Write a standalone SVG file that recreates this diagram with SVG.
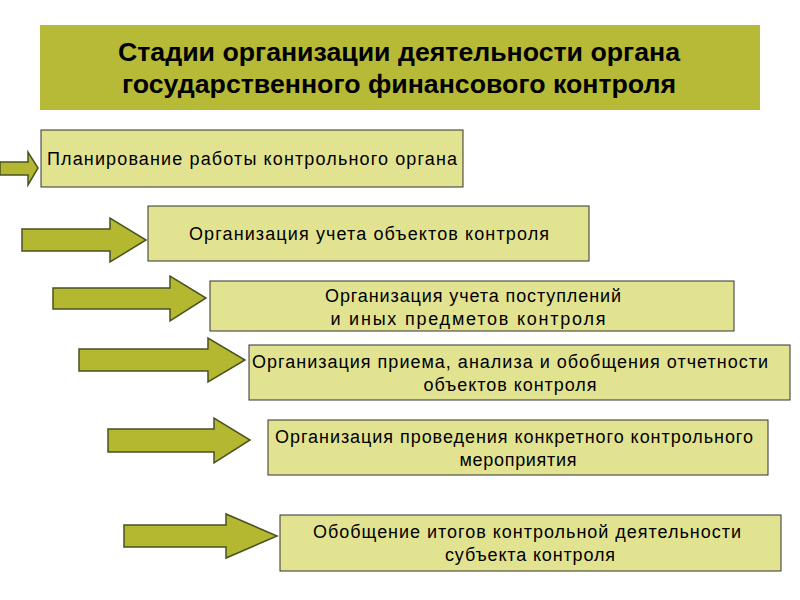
<svg xmlns="http://www.w3.org/2000/svg" width="800" height="600" viewBox="0 0 800 600">
<style>
.box{fill:#e2e391;stroke:#333;stroke-width:1}
.arr{fill:#b3b830;stroke:#4a5220;stroke-width:1.5}
text{font-family:"Liberation Sans",Arial,sans-serif;font-size:18px;fill:#000;text-anchor:middle}
.t{font-size:25px;font-weight:bold}
</style>
<rect width="800" height="600" fill="#fff"/>
<g id="title"><rect x="40" y="25" width="720" height="85" fill="#b7ba36"/>
<text class="t" x="399" y="61" textLength="562" lengthAdjust="spacingAndGlyphs">Стадии организации деятельности органа</text>
<text class="t" x="399" y="93" textLength="554" lengthAdjust="spacingAndGlyphs">государственного финансового контроля</text></g>
<g id="connectors">
<path class="arr" d="M0,162 H28 V152 L38,168 L28,185 V175 H0 Z"/>
<path class="arr" d="M22,229 H110 V218 L146,240 L110,262 V251 H22 Z"/>
<path class="arr" d="M53,288 H170 V276 L206,298 L170,321 V309 H53 Z"/>
<path class="arr" d="M79,349 H208 V338 L245,360 L208,382 V371 H79 Z"/>
<path class="arr" d="M108,429 H214 V418 L250,440 L214,463 V452 H108 Z"/>
<path class="arr" d="M124,525 H226 V514 L277,536 L226,558 V547 H124 Z"/>
</g>
<g id="n1"><rect class="box" x="41" y="130" width="422" height="57"/><text x="252" y="165" textLength="410" lengthAdjust="spacing">Планирование  работы  контрольного  органа</text></g>
<g id="n2"><rect class="box" x="148" y="206" width="441" height="55"/><text x="369" y="240" textLength="360" lengthAdjust="spacing">Организация  учета  объектов контроля</text></g>
<g id="n3"><rect class="box" x="210" y="281" width="524" height="50"/><text x="473" y="302" textLength="296" lengthAdjust="spacing">Организация  учета  поступлений</text><text x="468" y="325" textLength="275" lengthAdjust="spacing">и иных  предметов  контроля</text></g>
<g id="n4"><rect class="box" x="249" y="345" width="541" height="55"/><text x="510" y="368" textLength="516" lengthAdjust="spacing">Организация  приема,  анализа  и обобщения  отчетности</text><text x="510" y="391" textLength="173" lengthAdjust="spacing">объектов контроля</text></g>
<g id="n5"><rect class="box" x="268" y="420" width="500" height="55"/><text x="514" y="443" textLength="478" lengthAdjust="spacing">Организация  проведения  конкретного  контрольного</text><text x="518" y="466" textLength="117" lengthAdjust="spacing">мероприятия</text></g>
<g id="n6"><rect class="box" x="280" y="515" width="501" height="56"/><text x="527" y="538" textLength="428" lengthAdjust="spacing">Обобщение  итогов контрольной  деятельности</text><text x="530" y="561" textLength="170" lengthAdjust="spacing">субъекта контроля</text></g>
</svg>
